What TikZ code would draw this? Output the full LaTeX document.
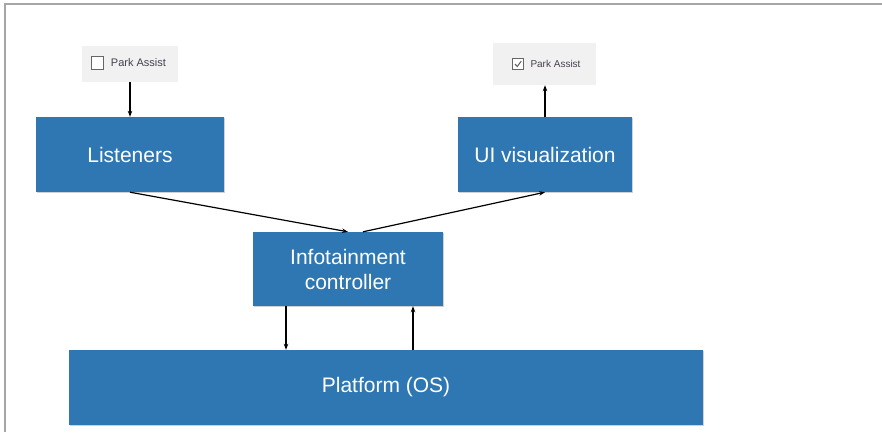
\documentclass[tikz,border=0pt]{standalone}
\usepackage{fontspec}
\setmainfont{Liberation Sans}
\usetikzlibrary{arrows.meta,shadows}
\definecolor{boxblue}{RGB}{47,119,178}
\definecolor{framegray}{RGB}{166,166,166}
\definecolor{cbfill}{RGB}{241,241,241}
\definecolor{cbtext}{RGB}{70,64,80}
\tikzset{
  bluebox/.style={draw=none,fill=boxblue,text=white,align=center,inner sep=0pt,
    font=\fontsize{21}{25}\selectfont,
    drop shadow={shadow xshift=1.2pt,shadow yshift=-1.2pt,opacity=0.18,fill=black}},
  cbbox/.style={draw=none,fill=cbfill,inner sep=0pt},
  cbsq/.style={draw=gray!80!black,line width=0.9pt,fill=white,inner sep=0pt},
  cblabel/.style={text=cbtext,inner sep=0pt},
  arr/.style={line width=1.2pt,-{Stealth[length=6pt,width=4.5pt]}},
}
\begin{document}
\begin{tikzpicture}[x=1pt,y=-1pt]
\useasboundingbox (0,0) rectangle (882,432);
% frame
\draw[framegray,line width=1.7pt] (5,432) -- (5,4) -- (882,4);
% checkboxes
\node[cbbox,minimum width=96pt,minimum height=36pt] (cb1) at (130,64) {};
\node[cbsq,minimum width=12.5pt,minimum height=12.5pt] (sq1) at (97.5,63) {};
\node[cblabel,font=\fontsize{11}{13}\selectfont] (t1) at (138.5,63) {Park Assist};
\node[cbbox,minimum width=103pt,minimum height=42pt] (cb2) at (544.5,64) {};
\node[cbsq,minimum width=10.5pt,minimum height=10.5pt] (sq2) at (518,64) {};
\draw[gray!70!black,line width=1pt] ([xshift=-3pt,yshift=0pt]sq2.center) -- ([xshift=-0.8pt,yshift=-2.5pt]sq2.center) -- ([xshift=3.2pt,yshift=2.8pt]sq2.center);
\node[cblabel,font=\fontsize{10}{12}\selectfont] (t2) at (555.5,64) {Park Assist};
% blue boxes
\node[bluebox,minimum width=188pt,minimum height=75pt] (lis) at (130,154.5) {Listeners};
\node[bluebox,minimum width=174pt,minimum height=75pt] (ui) at (545,154.5) {UI visualization};
\node[bluebox,minimum width=190pt,minimum height=74pt] (inf) at (348,269) {Infotainment\\controller};
\node[bluebox,minimum width=634pt,minimum height=75pt] (plat) at (386,387.5) {Platform (OS)};
% connectors
\draw[arr] (cb1.south) -- (cb1.south |- lis.north);
\draw[arr] (ui.north) -- (ui.north |- cb2.south);
\draw[arr] (lis.south) -- (inf.north);
\coordinate (infr) at ([xshift=15pt]inf.north);
\draw[arr] (infr) -- (ui.south);
\coordinate (d1) at ([xshift=-62pt]inf.south);
\draw[arr] (d1) -- (d1 |- plat.north);
\coordinate (u1) at ([xshift=65pt]inf.south);
\draw[arr] (u1 |- plat.north) -- (u1);
\end{tikzpicture}
\end{document}
